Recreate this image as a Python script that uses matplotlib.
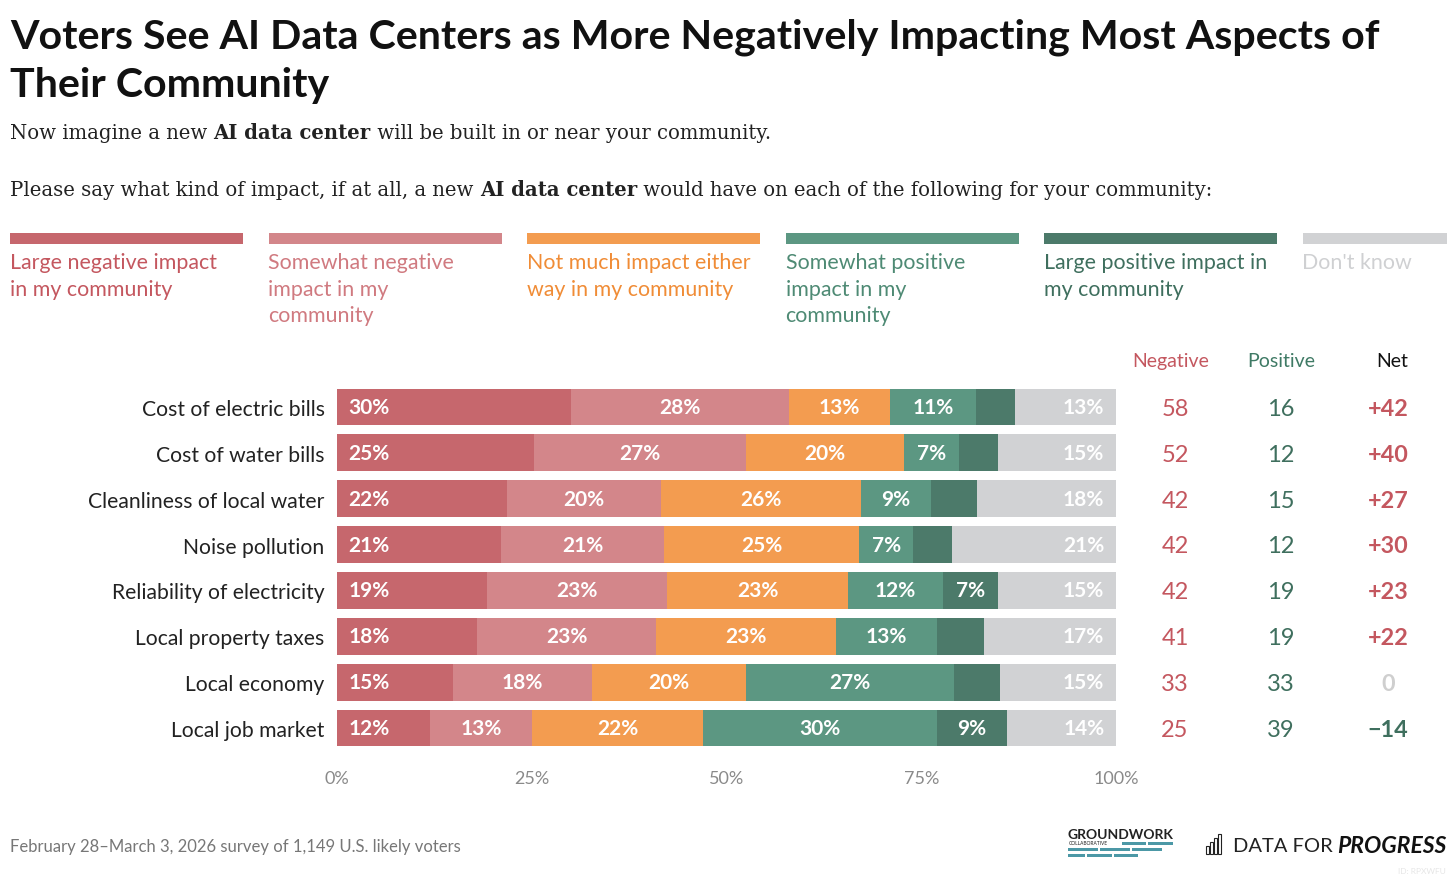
import matplotlib
matplotlib.use("Agg")
import matplotlib.pyplot as plt
import numpy as np

# data
categories = ["Cost of electric bills", "Cost of water bills", "Cleanliness of local water",
              "Noise pollution", "Reliability of electricity", "Local property taxes",
              "Local economy", "Local job market"]
large_neg = [30, 25, 22, 21, 19, 18, 15, 12]
some_neg = [28, 27, 20, 21, 23, 23, 18, 13]
not_much = [13, 20, 26, 25, 23, 23, 20, 22]
some_pos = [11, 7, 9, 7, 12, 13, 27, 30]
large_pos = [5, 5, 6, 5, 7, 6, 6, 9]
dont_know = [13, 15, 18, 21, 15, 17, 15, 14]
negative = [58, 52, 42, 42, 42, 41, 33, 25]
positive = [16, 12, 15, 12, 19, 19, 33, 39]

legend_labels = [["Large negative impact", "in my community"],
                 ["Somewhat negative", "impact in my", "community"],
                 ["Not much impact either", "way in my community"],
                 ["Somewhat positive", "impact in my", "community"],
                 ["Large positive impact in", "my community"],
                 ["Don't know"]]
bar_colors = ["#C6676D", "#D3868A", "#F39C50", "#5C9782", "#4C7A6A", "#D1D2D4"]
text_colors = ["#C4575F", "#D07A80", "#F08C36", "#4E8A74", "#3F6F5E", "#CFD0D2"]
ticks = [0, 25, 50, 75, 100]

W, H = 1456, 879
plt.rcParams['font.family'] = ['Lato', 'DejaVu Sans']
fig = plt.figure(figsize=(W / 100, H / 100), dpi=100)


def P(x, y):
    return x / W, 1 - y / H


# title and subtitle
fig.text(*P(10, 49), "Voters See AI Data Centers as More Negatively Impacting Most Aspects of",
         fontsize=29.6, fontweight='bold', color='#111111', va='baseline')
fig.text(*P(10, 97), "Their Community", fontsize=29.6, fontweight='bold', color='#111111', va='baseline')

fig.canvas.draw()
renderer = fig.canvas.get_renderer()


def rich_line(x, y, parts):
    for txt, bold in parts:
        t = fig.text(*P(x, y), txt, fontsize=14.1, family=['DejaVu Serif'],
                     fontweight='bold' if bold else 'normal', color='#222222', va='baseline')
        bb = t.get_window_extent(renderer)
        x += bb.width


rich_line(10, 139, [("Now imagine a new ", False), ("AI data center", True),
                    (" will be built in or near your community.", False)])
rich_line(10, 196, [("Please say what kind of impact, if at all, a new ", False), ("AI data center", True),
                    (" would have on each of the following for your community:", False)])

# legend
for i, lines in enumerate(legend_labels):
    x0 = 10 + i * 258.5
    w = 233 if i < 5 else 144
    fig.patches.append(plt.Rectangle(P(x0, 245), w / W, 11 / H, transform=fig.transFigure,
                                     facecolor=bar_colors[i], linewidth=0))
    for j, line in enumerate(lines):
        fig.text(*P(x0, 269 + j * 26.5), line, fontsize=15.4, color=text_colors[i], va='baseline')

# stacked bars
ax = fig.add_axes([337 / W, 1 - 752 / H, (1116 - 337) / W, (752 - 385) / H])
data = np.array([large_neg, some_neg, not_much, some_pos, large_pos, dont_know], dtype=float)
data = data / data.sum(axis=0) * 100
y = np.arange(len(categories))
left = np.zeros(len(categories))
for k in range(6):
    ax.barh(y, data[k], left=left, height=0.8, color=bar_colors[k], linewidth=0)
    raw = [large_neg, some_neg, not_much, some_pos, large_pos, dont_know][k]
    for r in range(len(categories)):
        if raw[r] < 7:
            continue
        if k == 0:
            xx, ha = left[r] + 1.5, 'left'
        elif k == 5:
            xx, ha = 98.5, 'right'
        else:
            xx, ha = left[r] + data[k][r] / 2, 'center'
        ax.text(xx, r, f"{raw[r]}%", ha=ha, va='center', color='white',
                fontsize=15, fontweight='bold')
    left += data[k]

ax.set_xlim(0, 100)
ax.set_ylim(len(categories) - 0.5, -0.5)
ax.set_yticks(y)
ax.set_yticklabels(categories, fontsize=15.2, color='#222222')
ax.set_xticks(ticks)
ax.set_xticklabels([f"{t}%" for t in ticks], fontsize=13, color='#8A8A8A')
ax.tick_params(length=0)
ax.tick_params(axis='y', pad=9)
ax.tick_params(axis='x', pad=14)
for s in ax.spines.values():
    s.set_visible(False)


def col(px):
    # convert a pixel column to data units of the bar axis
    return (px - 337) / (1116 - 337) * 100


# right hand table
for r in range(len(categories)):
    net = negative[r] - positive[r]
    if net > 0:
        ns, nc = f"+{net}", "#C4575F"
    elif net < 0:
        ns, nc = f"\u2212{-net}", "#3F6F5E"
    else:
        ns, nc = "0", "#CFCFCF"
    ax.text(col(1175), r + 0.03, str(negative[r]), ha='center', va='center',
            fontsize=17, color="#C4575F", clip_on=False)
    ax.text(col(1281), r + 0.03, str(positive[r]), ha='center', va='center',
            fontsize=17, color="#3F6F5E", clip_on=False)
    ax.text(col(1388), r + 0.03, ns, ha='center', va='center',
            fontsize=16.8, fontweight='bold', color=nc, clip_on=False)

fig.text(*P(1171, 362), "Negative", fontsize=14, color="#C4575F", ha='center', va='center')
fig.text(*P(1281, 362), "Positive", fontsize=14, color="#3F7A65", ha='center', va='center')
fig.text(*P(1392, 362), "Net", fontsize=14, color="#111111", ha='center', va='center')

# footer
fig.text(*P(10, 847), "February 28\u2013March 3, 2026 survey of 1,149 U.S. likely voters",
         fontsize=12, color='#777777', va='center')

# logos (approximate)
fig.text(*P(1120, 835), "GROUNDWORK", fontsize=10, fontweight='bold', color='#222222',
         ha='center', va='center')
fig.text(*P(1069, 844), "COLLABORATIVE", fontsize=3.5, color='#222222', va='center')
for (xa, ya, wa) in [(1122, 844, 24), (1148, 844, 25), (1068, 850, 30), (1100, 850, 30),
                     (1132, 850, 30), (1068, 856, 17), (1087, 856, 25), (1114, 856, 24)]:
    fig.patches.append(plt.Rectangle(P(xa, ya + 1.5), wa / W, 3 / H, transform=fig.transFigure,
                                     facecolor='#4C98A6', linewidth=0))
for k, hh in enumerate([8, 12, 16, 20]):
    fig.patches.append(plt.Rectangle(P(1206 + k * 4, 855), 3 / W, hh / H, transform=fig.transFigure,
                                     fill=False, edgecolor='#222222', linewidth=0.8))
fig.text(*P(1233, 847), "DATA FOR", fontsize=14.5, color='#222222', va='center')
fig.text(*P(1446, 847), "PROGRESS", fontsize=16.5, fontweight='bold', style='italic', color='#111111',
         ha='right', va='center')
fig.text(*P(1446, 872), "ID: RPXWFU", fontsize=6, color='#E6E6E6', ha='right', va='center')

fig.savefig("out.png", dpi=100)
